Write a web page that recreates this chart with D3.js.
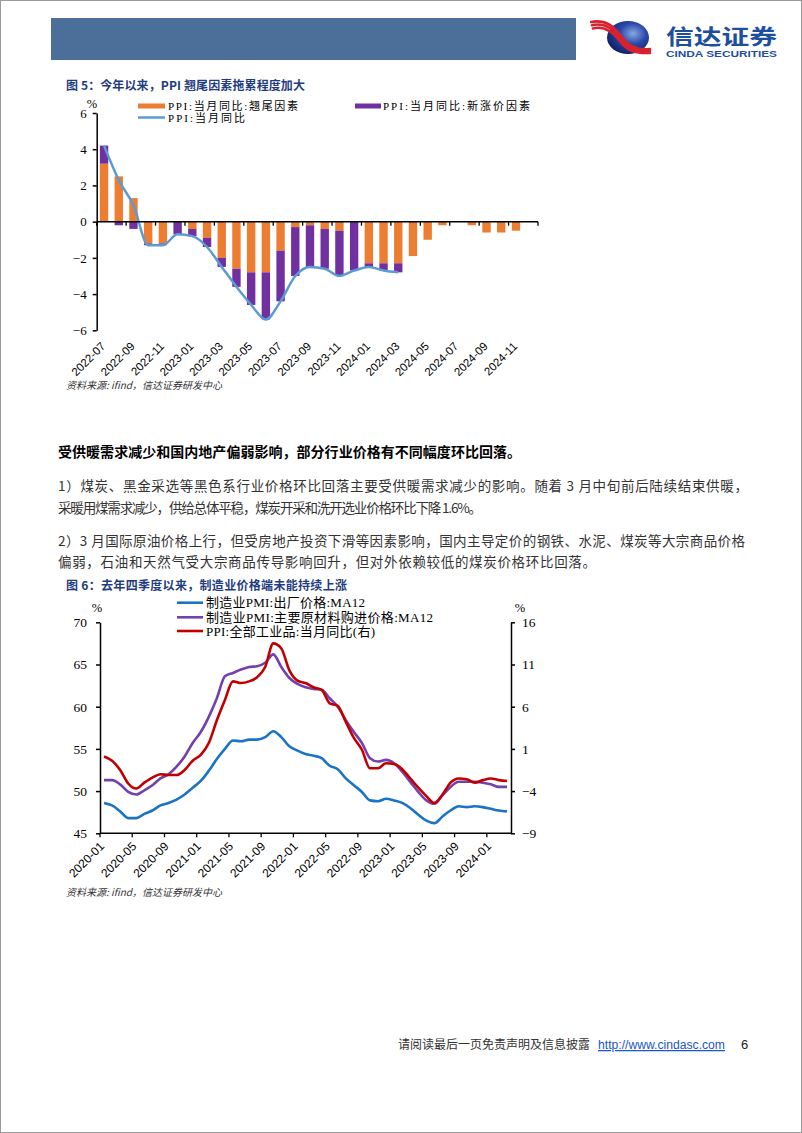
<!DOCTYPE html>
<html><head><meta charset="utf-8">
<script src="https://cdn.jsdelivr.net/npm/d3@7"></script>
<style>
body{margin:0;background:#fff;}
svg{display:block;}
</style></head><body>
<svg id="page" width="802" height="1133"></svg>
<script>
// ---------------- DATA ----------------
// Chart 1 (图5)
const months1 = ["2022-07","2022-08","2022-09","2022-10","2022-11","2022-12",
  "2023-01","2023-02","2023-03","2023-04","2023-05","2023-06","2023-07","2023-08","2023-09","2023-10","2023-11","2023-12",
  "2024-01","2024-02","2024-03","2024-04","2024-05","2024-06","2024-07","2024-08","2024-09","2024-10","2024-11","2024-12"];
const tailEffect = [3.2, 2.5, 1.3, -1.2, -1.2, 0, -0.4, -0.9, -2.0, -2.6, -2.8, -2.8, -1.6, -0.3, -0.2, -0.4, -0.5, 0,
  -2.3, -2.3, -2.3, -1.9, -1.0, -0.2, 0, -0.2, -0.6, -0.6, -0.5, 0];
const newEffect = [1.0, -0.2, -0.4, -0.1, -0.1, -0.7, -0.4, -0.5, -0.5, -1.0, -1.8, -2.6, -2.8, -2.7, -2.3, -2.2, -2.5, -2.7,
  -0.2, -0.4, -0.5, 0, 0, 0, 0, 0, 0, 0, 0, 0];
const ppiYoY1 = [4.2, 2.3, 0.9, -1.3, -1.3, -0.7, -0.8, -1.4, -2.5, -3.6, -4.6, -5.4, -4.4, -3.0, -2.5, -2.6, -3.0, -2.7,
  -2.5, -2.7, -2.8];
const yTicks1 = [-6, -4, -2, 0, 2, 4, 6];
const tickLabels1 = ["2022-07","2022-09","2022-11","2023-01","2023-03","2023-05","2023-07","2023-09","2023-11",
  "2024-01","2024-03","2024-05","2024-07","2024-09","2024-11"];
const legend1 = ["PPI:当月同比:翘尾因素", "PPI:当月同比:新涨价因素", "PPI:当月同比"];

// Chart 2 (图6)
const months2 = ["2020-01","2020-02","2020-03","2020-04","2020-05","2020-06","2020-07","2020-08","2020-09","2020-10","2020-11","2020-12",
  "2021-01","2021-02","2021-03","2021-04","2021-05","2021-06","2021-07","2021-08","2021-09","2021-10","2021-11","2021-12",
  "2022-01","2022-02","2022-03","2022-04","2022-05","2022-06","2022-07","2022-08","2022-09","2022-10","2022-11","2022-12",
  "2023-01","2023-02","2023-03","2023-04","2023-05","2023-06","2023-07","2023-08","2023-09","2023-10","2023-11","2023-12",
  "2024-01","2024-02","2024-03"];
const pmiOutput = [48.6, 48.3, 47.6, 46.8, 46.8, 47.3, 47.7, 48.3, 48.6, 49.0, 49.6, 50.4,
  51.2, 52.4, 53.8, 55.0, 56.0, 55.9, 56.1, 56.1, 56.4, 57.1, 56.4, 55.3,
  54.8, 54.4, 54.2, 53.9, 53.0, 52.6, 51.5, 50.7, 49.9, 48.9, 48.8, 49.1,
  48.9, 48.6, 48.0, 47.2, 46.5, 46.2, 47.0, 47.7, 48.2, 48.1, 48.2, 48.1,
  47.9, 47.7, 47.6];
const pmiInput = [51.3, 51.3, 50.8, 49.9, 49.6, 50.1, 50.7, 51.5, 52.0, 52.9, 54.1, 55.7,
  57.0, 58.8, 61.0, 63.6, 64.0, 64.4, 64.7, 64.8, 65.2, 66.2, 64.7, 63.4,
  62.7, 62.3, 62.1, 62.0, 61.0, 60.0, 58.4, 57.0, 55.7, 53.9, 53.5, 53.7,
  53.3, 52.3, 51.1, 49.9, 48.9, 48.5, 49.5, 50.5, 51.1, 51.1, 51.1, 51.0,
  50.8, 50.5, 50.5];
const ppiAll = [0.1, -0.4, -1.5, -3.1, -3.7, -3.0, -2.4, -2.0, -2.1, -2.1, -1.5, -0.4,
  0.3, 1.7, 4.4, 6.8, 9.0, 8.8, 9.0, 9.5, 10.7, 13.5, 12.9, 10.3,
  9.1, 8.8, 8.3, 8.0, 6.4, 6.1, 4.2, 2.3, 0.9, -1.3, -1.3, -0.7,
  -0.8, -1.4, -2.5, -3.6, -4.6, -5.4, -4.4, -3.0, -2.5, -2.6, -3.0, -2.7,
  -2.5, -2.7, -2.8];
const yTicksLeft2 = [45, 50, 55, 60, 65, 70];
const yTicksRight2 = [-9, -4, 1, 6, 11, 16];
const tickLabels2 = ["2020-01","2020-05","2020-09","2021-01","2021-05","2021-09","2022-01","2022-05","2022-09",
  "2023-01","2023-05","2023-09","2024-01"];
const legend2 = ["制造业PMI:出厂价格:MA12", "制造业PMI:主要原材料购进价格:MA12", "PPI:全部工业品:当月同比(右)"];

// ---------------- DRAW ----------------
const SERIF = "'Liberation Serif','Times New Roman','Noto Sans CJK SC',serif";
const SANS = "'Liberation Sans',Arial,'Noto Sans CJK SC',sans-serif";
const CJK = "'Noto Sans CJK SC','Liberation Sans',sans-serif";
const C_OR = "#ed7d31", C_PU = "#7030a0", C_LB = "#5b9bd5";
const C_BLUE = "#1a73c6", C_PURP = "#7440ad", C_RED = "#c00000";
const TITLE_C = "#1f3c80";

const svg = d3.select("#page");
const defs = svg.append("defs");

// page border
svg.append("rect").attr("x",0.5).attr("y",0.5).attr("width",801).attr("height",1132)
  .attr("fill","none").attr("stroke","#9a9a9a").attr("stroke-width",1);

// header bar
svg.append("rect").attr("x",51).attr("y",18).attr("width",525).attr("height",42).attr("fill","#4b6f98");

// logo
const grad = defs.append("radialGradient").attr("id","sph").attr("cx","62%").attr("cy","38%").attr("r","70%");
grad.append("stop").attr("offset","0%").attr("stop-color","#8aa6e6");
grad.append("stop").attr("offset","45%").attr("stop-color","#2a49a8");
grad.append("stop").attr("offset","100%").attr("stop-color","#0c1c63");
const logo = svg.append("g");
logo.append("ellipse").attr("cx",628).attr("cy",37.5).attr("rx",21).attr("ry",16.5).attr("fill","url(#sph)");
[0,1,2].forEach(k=>{
  const o = k*3.2;
  logo.append("path")
    .attr("d",`M ${591+o*0.3} ${22+o} C ${606} ${19+o}, ${614} ${27+o}, ${621} ${36+o} S ${636} ${51+o*0.4}, ${650} ${49+o*0.6}`)
    .attr("fill","none").attr("stroke","#d8232f").attr("stroke-width",2.6).attr("stroke-linecap","round");
});
logo.append("text").attr("x",666).attr("y",43.5).attr("font-family",CJK).attr("font-weight",700)
  .attr("font-size",21).attr("fill","#1d4f9e").attr("textLength",111).attr("lengthAdjust","spacingAndGlyphs").text("信达证券");
logo.append("text").attr("x",666).attr("y",56.5).attr("font-family",SANS).attr("font-weight",700)
  .attr("font-size",9.5).attr("fill","#1d4f9e").attr("textLength",111).attr("lengthAdjust","spacingAndGlyphs").text("CINDA SECURITIES");

// ---------- Chart 1 ----------
svg.append("text").attr("x",66).attr("y",90).attr("font-family",CJK).attr("font-weight",700)
  .attr("font-size",12).attr("fill",TITLE_C).attr("textLength",239).attr("lengthAdjust","spacing")
  .text("图 5：今年以来，PPI 翘尾因素拖累程度加大");

const x1 = d3.scaleBand().domain(months1).range([96.7, 538]).paddingInner(0.43).paddingOuter(0.215);
const y1 = d3.scaleLinear().domain([-6, 6]).range([330.3, 113]);
const g1 = svg.append("g");

const rows1 = months1.map((m,i)=>({month:m, tail:tailEffect[i], fresh:newEffect[i]}));
const stack1 = d3.stack().keys(["tail","fresh"]).offset(d3.stackOffsetDiverging)(rows1);
const colors1 = {tail:C_OR, fresh:C_PU};
stack1.forEach(s=>{
  g1.append("g").attr("fill",colors1[s.key]).selectAll("rect").data(s).join("rect")
    .attr("x",d=>x1(d.data.month)).attr("width",x1.bandwidth())
    .attr("y",d=>y1(Math.max(d[0],d[1])))
    .attr("height",d=>Math.abs(y1(d[0])-y1(d[1])));
});

const line1 = d3.line().x((d,i)=>x1(months1[i])+x1.bandwidth()/2).y(d=>y1(d)).curve(d3.curveMonotoneX);
g1.append("path").datum(ppiYoY1).attr("d",line1).attr("fill","none").attr("stroke",C_LB).attr("stroke-width",2.5);

// y axis
const ay1 = g1.append("g").attr("transform","translate(96.7,0)")
  .call(d3.axisLeft(y1).tickValues(yTicks1).tickSize(4).tickSizeOuter(0).tickPadding(6).tickFormat(d3.format("d")));
ay1.select(".domain").attr("stroke","#000").attr("stroke-width",1.5);
ay1.selectAll(".tick line").attr("stroke","#000").attr("stroke-width",1.5);
ay1.selectAll(".tick text").attr("font-family",SERIF).attr("font-size",13).attr("fill","#000");

// zero axis with boundary ticks
const [r0, r1] = x1.range();
g1.append("line").attr("x1",r0).attr("x2",r1).attr("y1",y1(0)).attr("y2",y1(0)).attr("stroke","#000").attr("stroke-width",1.5);
const bIdx1 = d3.range(0, months1.length+1, 2);
g1.selectAll(".bt").data(bIdx1).join("line")
  .attr("x1",k=>r0+k*x1.step()).attr("x2",k=>r0+k*x1.step())
  .attr("y1",y1(0)).attr("y2",y1(0)+4).attr("stroke","#000").attr("stroke-width",1.3);
g1.selectAll(".xl").data(tickLabels1).join("text")
  .attr("transform",d=>`translate(${x1(d)+x1.bandwidth()/2+2},347) rotate(-45)`)
  .attr("text-anchor","end").attr("font-family",SANS).attr("font-size",11.5).attr("fill","#000").text(d=>d);

g1.append("text").attr("x",92).attr("y",108).attr("text-anchor","middle").attr("font-family",SERIF).attr("font-size",12.5).text("%");

// legend 1
g1.append("rect").attr("x",138).attr("y",103.5).attr("width",27).attr("height",5).attr("fill",C_OR);
g1.append("text").attr("x",168).attr("y",109.5).attr("font-family",SERIF).attr("font-size",11)
  .attr("textLength",130).attr("lengthAdjust","spacing").text(legend1[0]);
g1.append("rect").attr("x",355).attr("y",103.5).attr("width",26).attr("height",5).attr("fill",C_PU);
g1.append("text").attr("x",383).attr("y",109.5).attr("font-family",SERIF).attr("font-size",11)
  .attr("textLength",147).attr("lengthAdjust","spacing").text(legend1[1]);
g1.append("line").attr("x1",138).attr("x2",165).attr("y1",117.5).attr("y2",117.5).attr("stroke",C_LB).attr("stroke-width",2.5);
g1.append("text").attr("x",168).attr("y",122.3).attr("font-family",SERIF).attr("font-size",11)
  .attr("textLength",77).attr("lengthAdjust","spacing").text(legend1[2]);

svg.append("text").attr("x",66).attr("y",389).attr("font-family",CJK).attr("font-style","italic")
  .attr("font-size",10).attr("fill","#333").text("资料来源: ifind，信达证券研发中心");

// ---------- Text block ----------
const body = [
  {t:"受供暖需求减少和国内地产偏弱影响，部分行业价格有不同幅度环比回落。", y:457, w:463, bold:true, fs:14},
  {t:"1）煤炭、黑金采选等黑色系行业价格环比回落主要受供暖需求减少的影响。随着 3 月中旬前后陆续结束供暖，", y:491, w:690, fs:13.5},
  {t:"采暖用煤需求减少，供给总体平稳，煤炭开采和洗开选业价格环比下降 1.6%。", y:513, w:424, fs:13.5},
  {t:"2）3 月国际原油价格上行，但受房地产投资下滑等因素影响，国内主导定价的钢铁、水泥、煤炭等大宗商品价格", y:546, w:687, fs:13.5},
  {t:"偏弱，石油和天然气受大宗商品传导影响回升，但对外依赖较低的煤炭价格环比回落。", y:567, w:538, fs:13.5}
];
svg.selectAll(".para").data(body).join("text")
  .attr("x",58).attr("y",d=>d.y).attr("font-family",CJK).attr("font-size",d=>d.fs)
  .attr("font-weight",d=>d.bold?700:400).attr("fill",d=>d.bold?"#000":"#333")
  .attr("textLength",d=>d.w).attr("lengthAdjust","spacing").text(d=>d.t);

// ---------- Chart 2 ----------
svg.append("text").attr("x",66).attr("y",590).attr("font-family",CJK).attr("font-weight",700)
  .attr("font-size",12).attr("fill",TITLE_C).attr("textLength",281).attr("lengthAdjust","spacing")
  .text("图 6：去年四季度以来，制造业价格端未能持续上涨");

const x2 = d3.scaleBand().domain(months2).range([100, 511]).padding(0);
const yL = d3.scaleLinear().domain([45, 70]).range([833.3, 622.3]);
const yR = d3.scaleLinear().domain([-9, 16]).range([833.3, 622.3]);
const g2 = svg.append("g");
const cx2 = (i)=>x2(months2[i])+x2.bandwidth()/2;

const lineL = d3.line().x((d,i)=>cx2(i)).y(d=>yL(d)).curve(d3.curveMonotoneX);
const lineR = d3.line().x((d,i)=>cx2(i)).y(d=>yR(d)).curve(d3.curveMonotoneX);
g2.append("path").datum(pmiOutput).attr("d",lineL).attr("fill","none").attr("stroke",C_BLUE).attr("stroke-width",2.6);
g2.append("path").datum(pmiInput).attr("d",lineL).attr("fill","none").attr("stroke",C_PURP).attr("stroke-width",2.6);
g2.append("path").datum(ppiAll).attr("d",lineR).attr("fill","none").attr("stroke",C_RED).attr("stroke-width",2.6);

const al = g2.append("g").attr("transform","translate(100,0)")
  .call(d3.axisLeft(yL).tickValues(yTicksLeft2).tickSize(4).tickSizeOuter(0).tickPadding(9));
const ar = g2.append("g").attr("transform","translate(511,0)")
  .call(d3.axisRight(yR).tickValues(yTicksRight2).tickSize(4).tickSizeOuter(0).tickPadding(7));
[al, ar].forEach(a=>{
  a.select(".domain").attr("stroke","#000").attr("stroke-width",1.5);
  a.selectAll(".tick line").attr("stroke","#000").attr("stroke-width",1.5);
  a.selectAll(".tick text").attr("font-family",SERIF).attr("font-size",13.5).attr("fill","#000");
});
const [s0, s1] = x2.range();
g2.append("line").attr("x1",s0).attr("x2",s1).attr("y1",yL(45)).attr("y2",yL(45)).attr("stroke","#000").attr("stroke-width",1.5);
const bIdx2 = d3.range(0, months2.length, 4);
g2.selectAll(".bt").data(bIdx2).join("line")
  .attr("x1",k=>s0+k*x2.step()).attr("x2",k=>s0+k*x2.step())
  .attr("y1",yL(45)).attr("y2",yL(45)+4).attr("stroke","#000").attr("stroke-width",1.3);
g2.selectAll(".xl").data(tickLabels2).join("text")
  .attr("transform",d=>`translate(${x2(d)+x2.bandwidth()/2+1},847) rotate(-45)`)
  .attr("text-anchor","end").attr("font-family",SANS).attr("font-size",12).attr("fill","#000").text(d=>d);

g2.append("text").attr("x",97).attr("y",612).attr("text-anchor","middle").attr("font-family",SERIF).attr("font-size",12.5).text("%");
g2.append("text").attr("x",520).attr("y",612).attr("text-anchor","middle").attr("font-family",SERIF).attr("font-size",12.5).text("%");

// legend 2
const legRows = [
  {t:legend2[0], c:C_BLUE, y:602.7, w:159},
  {t:legend2[1], c:C_PURP, y:617.3, w:227},
  {t:legend2[2], c:C_RED, y:631, w:169}
];
legRows.forEach(r=>{
  g2.append("line").attr("x1",177).attr("x2",203).attr("y1",r.y).attr("y2",r.y).attr("stroke",r.c).attr("stroke-width",2.6);
  g2.append("text").attr("x",206).attr("y",r.y+4.5).attr("font-family",SERIF).attr("font-size",13)
    .attr("textLength",r.w).attr("lengthAdjust","spacing").text(r.t);
});

svg.append("text").attr("x",66).attr("y",896).attr("font-family",CJK).attr("font-style","italic")
  .attr("font-size",10).attr("fill","#333").text("资料来源: ifind，信达证券研发中心");

// ---------- Footer ----------
svg.append("text").attr("x",398).attr("y",1049).attr("font-family",CJK).attr("font-size",12).attr("fill","#333")
  .attr("textLength",192).attr("lengthAdjust","spacing").text("请阅读最后一页免责声明及信息披露");
svg.append("text").attr("x",598).attr("y",1049).attr("font-family",SANS).attr("font-size",12.5).attr("fill","#1a56c8")
  .attr("text-decoration","underline").attr("textLength",127).attr("lengthAdjust","spacingAndGlyphs").text("http://www.cindasc.com");
svg.append("text").attr("x",741).attr("y",1049).attr("font-family",SANS).attr("font-size",13).attr("fill","#222").text("6");
</script>
</body></html>
